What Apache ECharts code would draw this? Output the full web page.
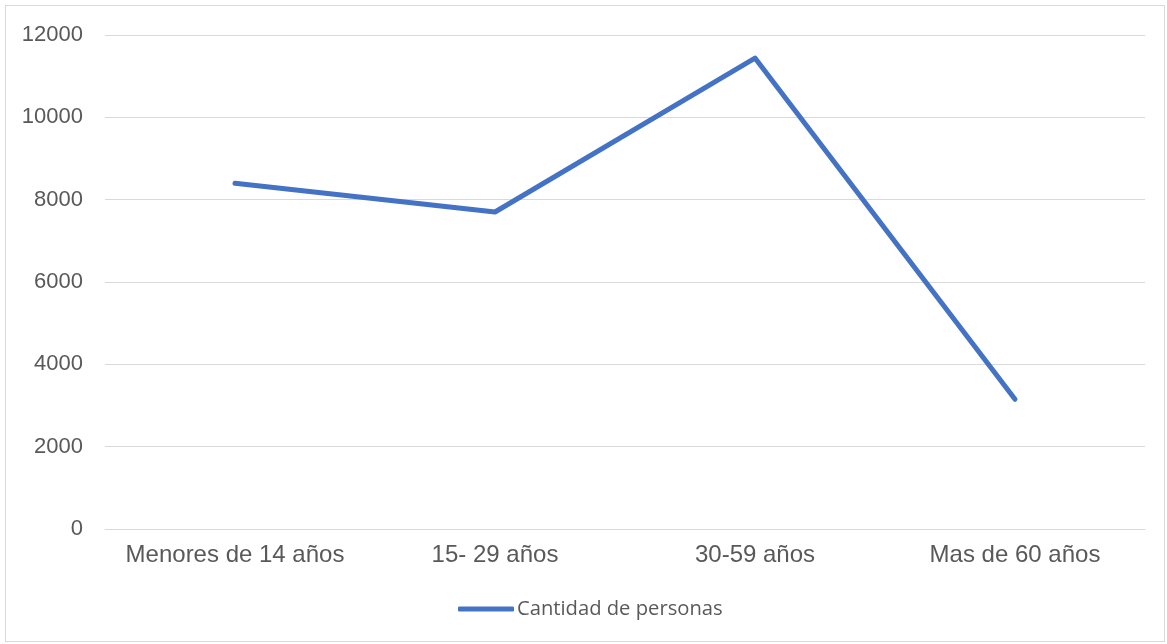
<!DOCTYPE html>
<html>
<head>
<meta charset="utf-8">
<script src="https://cdn.jsdelivr.net/npm/echarts@6/dist/echarts.min.js"></script>
<style>
    html, body { margin: 0; padding: 0; background: #fff; }
    #frame { position: absolute; left: 5px; top: 5px; width: 1160px; height: 637px; border: 1px solid #d9d9d9; box-sizing: border-box; }
    #chart { position: absolute; left: 0; top: 0; width: 1167px; height: 644px; }
</style>
</head>
<body>
<div id="frame"></div>
<div id="chart"></div>
<script>
const categories = ['Menores de 14 años', '15- 29 años', '30-59 años', 'Mas de 60 años']
const personas = [8400, 7700, 11440, 3150]
const seriesName = 'Cantidad de personas'

const chart = echarts.init(document.getElementById('chart'))
chart.setOption({
    animation: false,
    grid: {
        left: 105,
        right: 22,
        top: 35,
        bottom: 115
    },
    legend: {
        bottom: 20,
        left: 453,
        icon: 'roundRect',
        itemWidth: 56,
        itemHeight: 5,
        itemGap: 3,
        data: [seriesName],
        textStyle: {
            fontFamily: 'Open Sans',
            fontSize: 20.2,
            color: '#595959',
            padding: [0, 0, 0, -2]
        }
    },
    xAxis: {
        type: 'category',
        data: categories,
        axisLine: { lineStyle: { color: '#d9d9d9', width: 1 } },
        axisTick: { show: false },
        axisLabel: {
            interval: 0,
            fontFamily: 'Liberation Sans',
            fontSize: 24,
            color: '#595959',
            margin: 14
        }
    },
    yAxis: {
        type: 'value',
        min: 0,
        max: 12000,
        interval: 2000,
        axisLine: { show: false },
        axisTick: { show: false },
        splitLine: { lineStyle: { color: '#d9d9d9', width: 1 } },
        axisLabel: {
            fontFamily: 'Liberation Sans',
            fontSize: 22,
            color: '#595959',
            margin: 22,
            formatter: function (v) { return String(v) }
        }
    },
    series: [{
        name: seriesName,
        type: 'line',
        data: personas,
        showSymbol: false,
        symbol: 'none',
        lineStyle: {
            color: '#4472c4',
            width: 5,
            cap: 'round',
            join: 'round'
        },
        itemStyle: { color: '#4472c4' }
    }]
})
</script>
</body>
</html>
